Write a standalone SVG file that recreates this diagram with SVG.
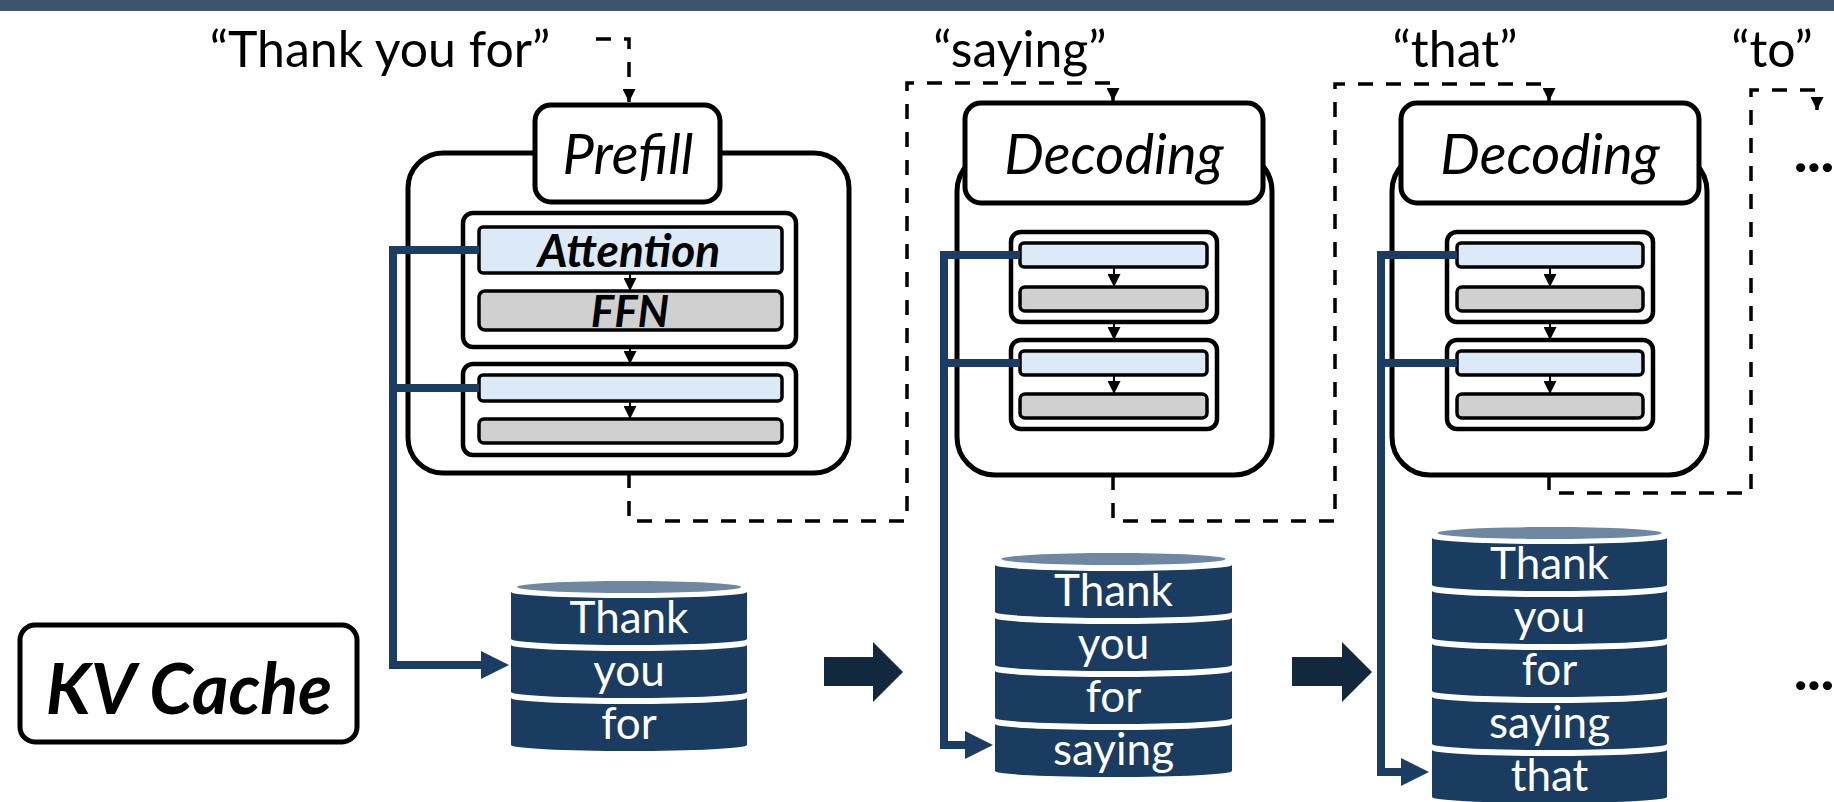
<svg xmlns="http://www.w3.org/2000/svg" width="1834" height="802" viewBox="0 0 1834 802">
<defs>
<style>
.box{fill:#fff;stroke:#000;stroke-width:5}
.blk{fill:#fff;stroke:#000;stroke-width:4.5}
.attn{fill:#dce9f6;stroke:#000;stroke-width:3.5}
.ffn{fill:#d0d0d0;stroke:#000;stroke-width:3.5}
.dash{fill:none;stroke:#000;stroke-width:3.5;stroke-dasharray:15 13}
.thin{fill:none;stroke:#000;stroke-width:2}
.blue{fill:none;stroke:#1b3d63;stroke-width:8;stroke-linejoin:miter}
.band{fill:#1a3c61}
.cap{fill:#6f88a2}
.big{fill:#12283f}
.ctext{font-family:Lato,"Liberation Sans",sans-serif;font-size:44px;fill:#fff;text-anchor:middle}
.lbl{font-family:Lato,"Liberation Sans",sans-serif;font-size:50px;fill:#000;text-anchor:middle}
.stage{font-family:Lato,"Liberation Sans",sans-serif;font-size:56px;font-style:italic;fill:#000;text-anchor:middle}
.bi{font-family:Lato,"Liberation Sans",sans-serif;font-weight:bold;font-style:italic;fill:#000;text-anchor:middle}
.dots{font-family:Lato,"Liberation Sans",sans-serif;font-weight:900;font-size:56px;fill:#000}
</style>
<marker id="ah" markerUnits="userSpaceOnUse" markerWidth="13" markerHeight="13" viewBox="0 0 13 13" refX="13" refY="6.5" orient="auto"><path d="M0,0 L13,6.5 L0,13 Z" fill="#000"/></marker>
<marker id="bh" markerUnits="userSpaceOnUse" markerWidth="28" markerHeight="28" viewBox="0 0 28 28" refX="0" refY="14" orient="auto"><path d="M0,0 L28,14 L0,28 Z" fill="#1b3d63"/></marker>
</defs>
<rect width="1834" height="802" fill="#fff"/>
<rect x="0" y="0" width="1834" height="11" fill="#3e546b"/>

<g id="label-thank-you-for"><text class="lbl" x="380" y="67">“Thank you for”</text></g>
<g id="label-saying"><text class="lbl" x="1020" y="67">“saying”</text></g>
<g id="label-that"><text class="lbl" x="1455" y="67">“that”</text></g>
<g id="label-to"><text class="lbl" x="1772" y="67">“to”</text></g>
<g id="dots-top"><text class="dots" x="1794" y="172">...</text></g>
<g id="dots-bottom"><text class="dots" x="1794" y="690">...</text></g>

<g id="prefill">
<rect class="box" x="408" y="153" width="441" height="320" rx="35"/>
<rect class="box" x="535" y="105" width="185" height="97" rx="16"/>
<text class="stage" x="628" y="174">Prefill</text>
<rect class="blk" x="463" y="213" width="333" height="134" rx="10"/>
<rect class="attn" x="479" y="227" width="303" height="46" rx="4"/>
<rect class="ffn" x="479" y="291" width="303" height="39" rx="6"/>
<text class="bi" x="629" y="267" font-size="46">Attention</text>
<text class="bi" x="630" y="327" font-size="44">FFN</text>
<rect class="blk" x="463" y="364" width="333" height="91" rx="10"/>
<rect class="attn" x="479" y="375" width="303" height="26" rx="4"/>
<rect class="ffn" x="479" y="419" width="303" height="24" rx="5"/>
</g>

<g id="decoding-1">
<rect class="box" x="957" y="153" width="315" height="322" rx="38"/>
<rect class="box" x="965" y="103" width="298" height="100" rx="16"/>
<text class="stage" x="1114" y="174">Decoding</text>
<rect class="blk" x="1011" y="232" width="206" height="90" rx="10"/>
<rect class="attn" x="1020" y="243" width="187" height="24" rx="4"/>
<rect class="ffn" x="1020" y="287" width="187" height="24" rx="5"/>
<rect class="blk" x="1011" y="340" width="206" height="89" rx="10"/>
<rect class="attn" x="1020" y="351" width="187" height="24" rx="4"/>
<rect class="ffn" x="1020" y="394" width="187" height="24" rx="5"/>
</g>

<g id="decoding-2">
<rect class="box" x="1392" y="153" width="315" height="322" rx="38"/>
<rect class="box" x="1401" y="103" width="298" height="100" rx="16"/>
<text class="stage" x="1550" y="174">Decoding</text>
<rect class="blk" x="1447" y="232" width="206" height="90" rx="10"/>
<rect class="attn" x="1457" y="243" width="186" height="24" rx="4"/>
<rect class="ffn" x="1457" y="287" width="186" height="24" rx="5"/>
<rect class="blk" x="1447" y="340" width="206" height="89" rx="10"/>
<rect class="attn" x="1457" y="351" width="186" height="24" rx="4"/>
<rect class="ffn" x="1457" y="394" width="186" height="24" rx="5"/>
</g>

<g id="kv-cache-label">
<rect x="20" y="625" width="337" height="117" rx="15" fill="#fff" stroke="#000" stroke-width="5"/>
<text class="bi" x="189" y="714" font-size="70">KV Cache</text>
</g>

<g id="cache-1">
<ellipse class="cap" cx="629" cy="587" rx="112" ry="6"/>
<path class="band" d="M511 592 A118 6 0 0 0 747 592 V639 A118 6 0 0 1 511 639 Z"/>
<path class="band" d="M511 645 A118 6 0 0 0 747 645 V692 A118 6 0 0 1 511 692 Z"/>
<path class="band" d="M511 698 A118 6 0 0 0 747 698 V745 A118 6 0 0 1 511 745 Z"/>
<text class="ctext" x="629" y="633">Thank</text>
<text class="ctext" x="629" y="686">you</text>
<text class="ctext" x="629" y="739">for</text>
</g>

<g id="cache-2">
<ellipse class="cap" cx="1113.5" cy="559" rx="112" ry="6"/>
<path class="band" d="M995 565 A118.5 6 0 0 0 1232 565 V612 A118.5 6 0 0 1 995 612 Z"/>
<path class="band" d="M995 618 A118.5 6 0 0 0 1232 618 V665 A118.5 6 0 0 1 995 665 Z"/>
<path class="band" d="M995 671 A118.5 6 0 0 0 1232 671 V718 A118.5 6 0 0 1 995 718 Z"/>
<path class="band" d="M995 724 A118.5 6 0 0 0 1232 724 V771 A118.5 6 0 0 1 995 771 Z"/>
<text class="ctext" x="1113.5" y="606">Thank</text>
<text class="ctext" x="1113.5" y="659">you</text>
<text class="ctext" x="1113.5" y="712">for</text>
<text class="ctext" x="1113.5" y="765">saying</text>
</g>

<g id="cache-3">
<ellipse class="cap" cx="1549.5" cy="533" rx="112" ry="6"/>
<path class="band" d="M1432 538 A117.5 6 0 0 0 1667 538 V585 A117.5 6 0 0 1 1432 585 Z"/>
<path class="band" d="M1432 591 A117.5 6 0 0 0 1667 591 V638 A117.5 6 0 0 1 1432 638 Z"/>
<path class="band" d="M1432 644 A117.5 6 0 0 0 1667 644 V691 A117.5 6 0 0 1 1432 691 Z"/>
<path class="band" d="M1432 697 A117.5 6 0 0 0 1667 697 V744 A117.5 6 0 0 1 1432 744 Z"/>
<path class="band" d="M1432 750 A117.5 6 0 0 0 1667 750 V797 A117.5 6 0 0 1 1432 797 Z"/>
<text class="ctext" x="1549.5" y="579">Thank</text>
<text class="ctext" x="1549.5" y="632">you</text>
<text class="ctext" x="1549.5" y="685">for</text>
<text class="ctext" x="1549.5" y="738">saying</text>
<text class="ctext" x="1549.5" y="791">that</text>
</g>

<g id="connectors">
<path class="thin" d="M630 273 V291" marker-end="url(#ah)"/>
<path class="thin" d="M630 347 V364" marker-end="url(#ah)"/>
<path class="thin" d="M630 401 V419" marker-end="url(#ah)"/>
<path class="thin" d="M1114 267 V287" marker-end="url(#ah)"/>
<path class="thin" d="M1114 322 V340" marker-end="url(#ah)"/>
<path class="thin" d="M1114 375 V394" marker-end="url(#ah)"/>
<path class="thin" d="M1550 267 V287" marker-end="url(#ah)"/>
<path class="thin" d="M1550 322 V340" marker-end="url(#ah)"/>
<path class="thin" d="M1550 375 V394" marker-end="url(#ah)"/>
<path class="dash" d="M596 39 H629 V102" marker-end="url(#ah)"/>
<path class="dash" d="M629 473 V521 H907 V83 H1113 V101" marker-end="url(#ah)"/>
<path class="dash" d="M1113 475 V521 H1335 V84 H1549 V101" marker-end="url(#ah)"/>
<path class="dash" d="M1549 475 V493 H1751 V90 H1817 V110" marker-end="url(#ah)"/>
<path class="blue" d="M479 250 H393 V665 H481" marker-end="url(#bh)"/>
<path class="blue" d="M479 388 H393"/>
<path class="blue" d="M1020 255 H944 V745 H965" marker-end="url(#bh)"/>
<path class="blue" d="M1020 363 H944"/>
<path class="blue" d="M1457 255 H1381 V772 H1401" marker-end="url(#bh)"/>
<path class="blue" d="M1457 363 H1381"/>
<polygon class="big" points="824,657 873,657 873,642 903,672 873,702 873,686 824,686"/>
<polygon class="big" points="1292,657 1342,657 1342,642 1372,672 1342,702 1342,686 1292,686"/>
</g>
</svg>
